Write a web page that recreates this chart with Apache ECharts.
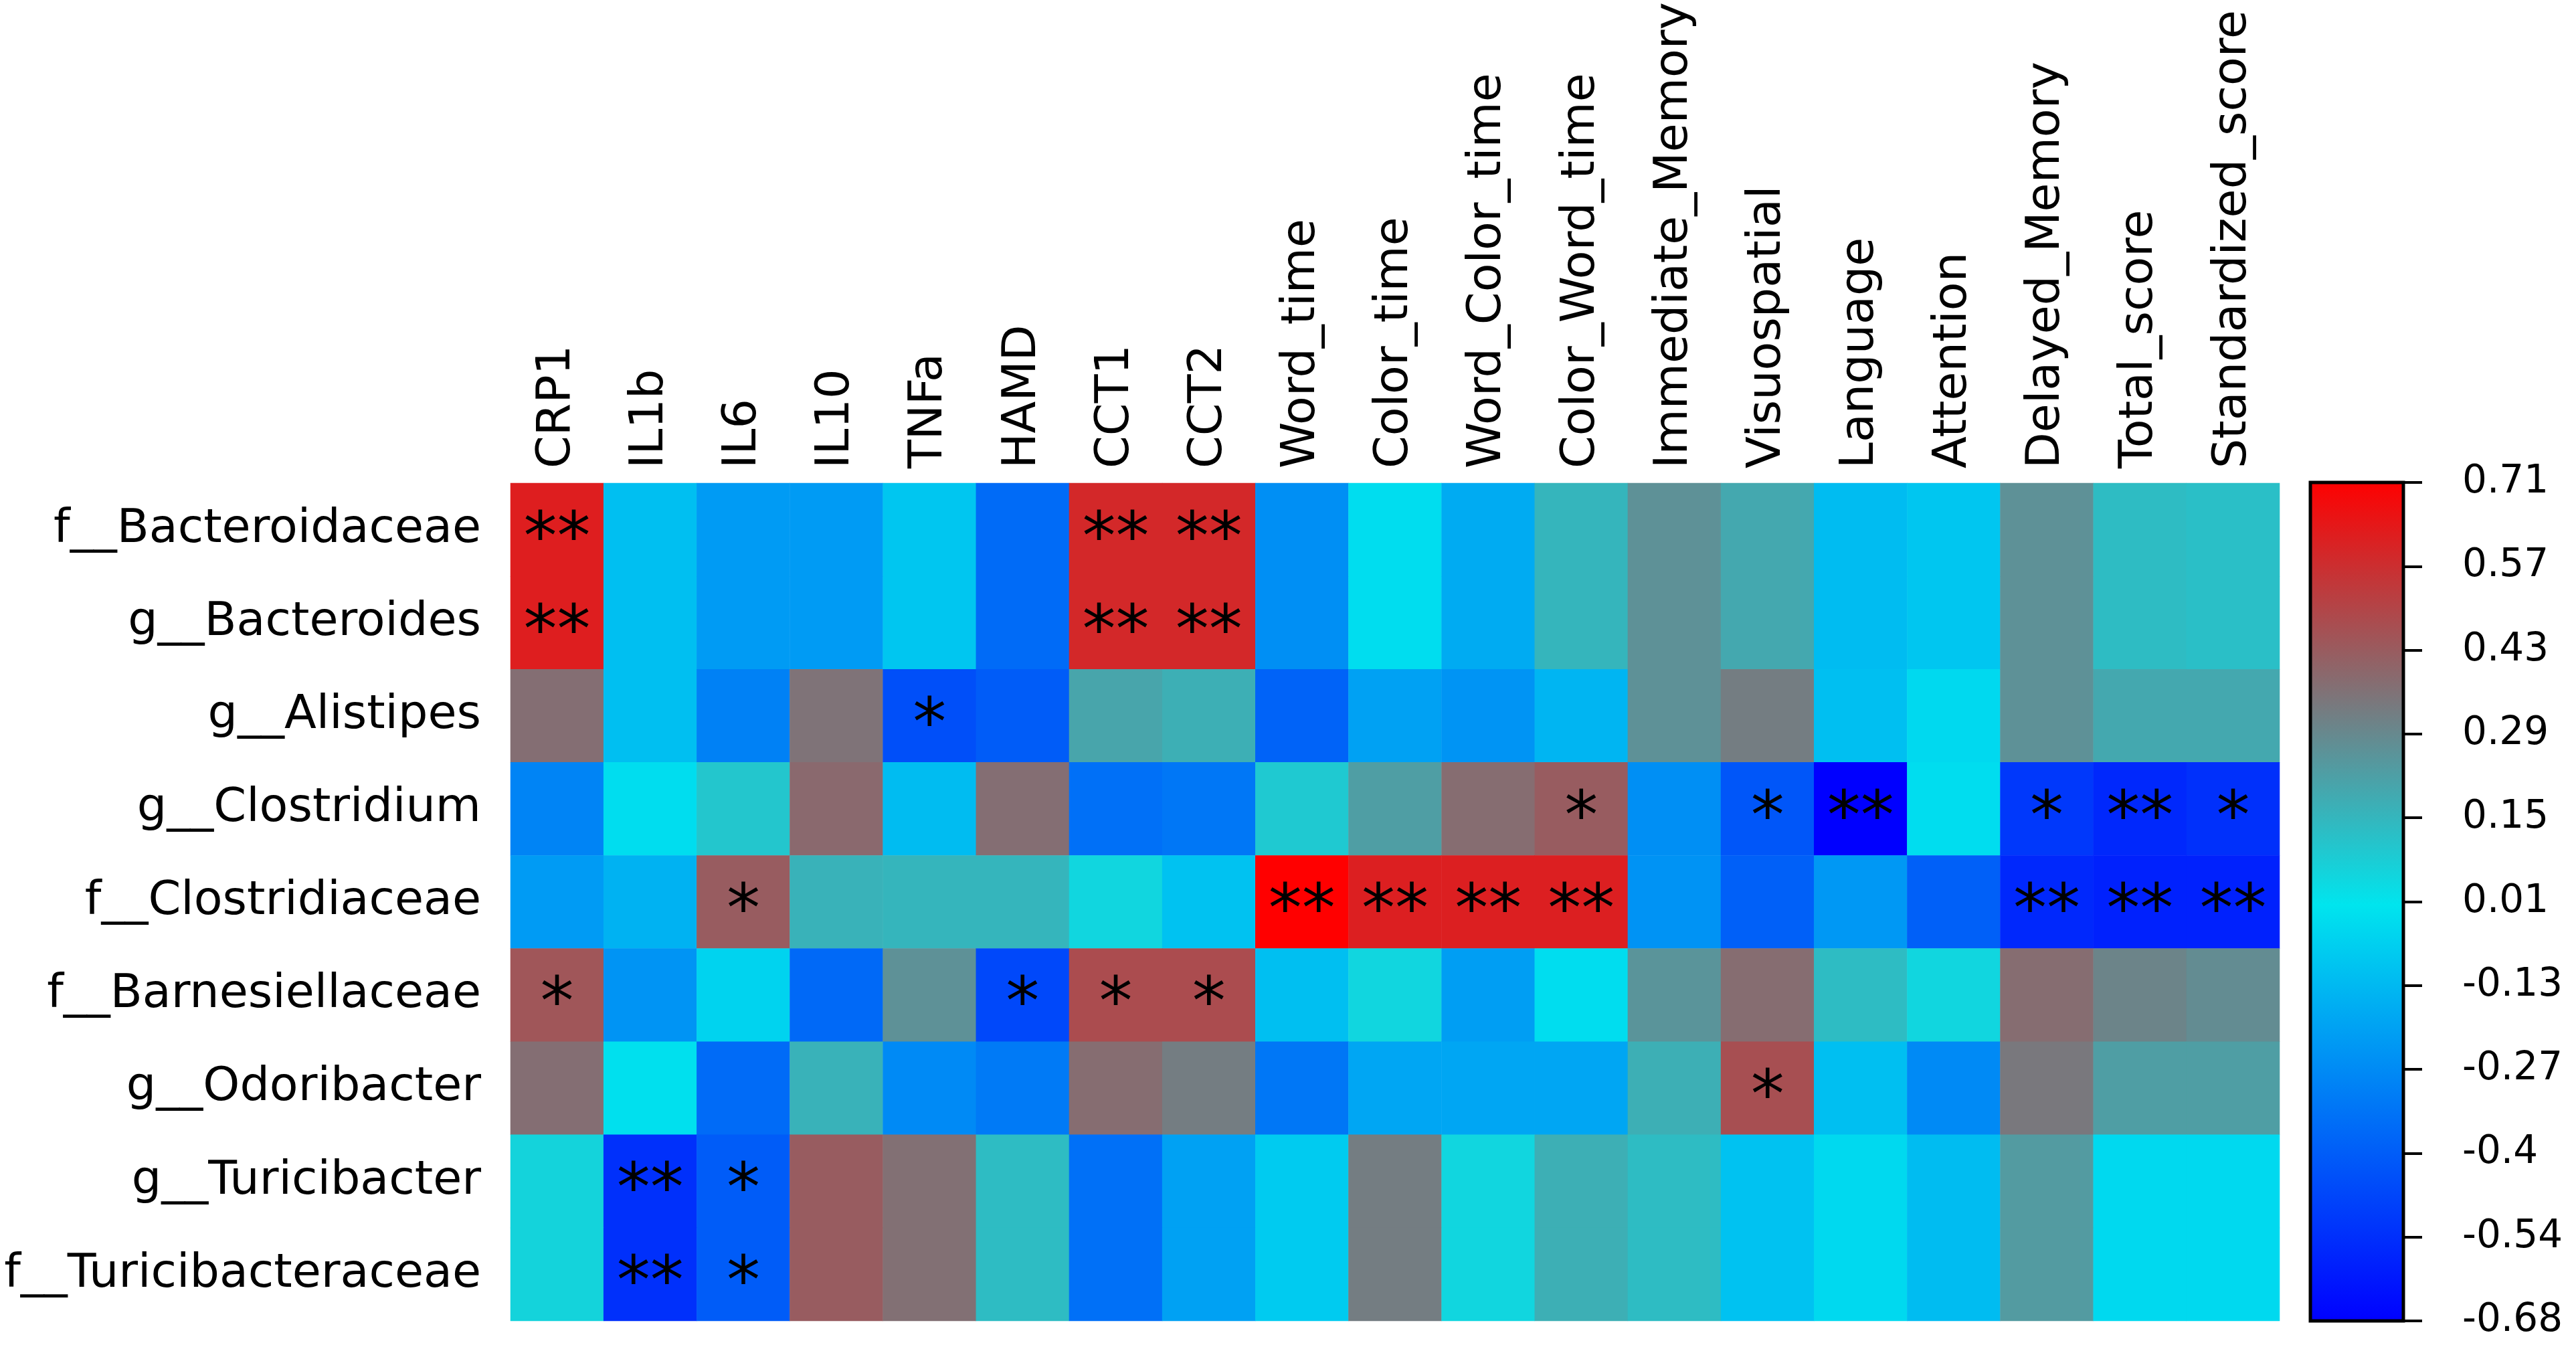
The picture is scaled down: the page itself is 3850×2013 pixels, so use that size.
<!DOCTYPE html>
<html>
<head>
<meta charset="utf-8">
<script src="https://cdn.jsdelivr.net/npm/echarts@6/dist/echarts.min.js"></script>
<style>
html,body{margin:0;padding:0;background:#fff;}
#chart{width:3850px;height:2013px;}
</style>
</head>
<body>
<div id="chart"></div>
<script>
const columns = ['CRP1','IL1b','IL6','IL10','TNFa','HAMD','CCT1','CCT2','Word_time','Color_time','Word_Color_time','Color_Word_time','Immediate_Memory','Visuospatial','Language','Attention','Delayed_Memory','Total_score','Standardized_score'];
const rows = ['f__Bacteroidaceae','g__Bacteroides','g__Alistipes','g__Clostridium','f__Clostridiaceae','f__Barnesiellaceae','g__Odoribacter','g__Turicibacter','f__Turicibacteraceae'];

const valBacteroidaceae   = [0.62,-0.10,-0.21,-0.21,-0.08,-0.355,0.59,0.59,-0.245,-0.01,-0.16,0.16,0.27,0.20,-0.11,-0.08,0.27,0.14,0.13];
const valBacteroides      = [0.62,-0.10,-0.21,-0.21,-0.08,-0.355,0.59,0.59,-0.245,-0.01,-0.16,0.16,0.27,0.20,-0.11,-0.08,0.27,0.14,0.13];
const valAlistipes        = [0.375,-0.10,-0.29,0.36,-0.44,-0.40,0.21,0.18,-0.38,-0.19,-0.23,-0.13,0.27,0.33,-0.10,-0.02,0.27,0.20,0.20];
const valClostridium      = [-0.28,-0.01,0.11,0.39,-0.11,0.375,-0.34,-0.32,0.10,0.23,0.38,0.43,-0.245,-0.42,-0.68,-0.01,-0.51,-0.56,-0.535];
const valClostridiaceae   = [-0.21,-0.14,0.43,0.17,0.16,0.16,0.06,-0.09,0.71,0.615,0.615,0.615,-0.235,-0.39,-0.22,-0.39,-0.56,-0.58,-0.58];
const valBarnesiellaceae  = [0.45,-0.23,-0.04,-0.36,0.27,-0.46,0.48,0.48,-0.10,0.06,-0.20,-0.01,0.26,0.38,0.14,0.06,0.38,0.31,0.285];
const valOdoribacter      = [0.375,0.0,-0.355,0.17,-0.26,-0.31,0.38,0.33,-0.32,-0.175,-0.175,-0.175,0.18,0.47,-0.10,-0.26,0.345,0.23,0.23];
const valTuricibacter     = [0.07,-0.535,-0.40,0.43,0.37,0.14,-0.34,-0.19,-0.065,0.33,0.06,0.18,0.14,-0.09,-0.02,-0.11,0.24,-0.02,-0.02];
const valTuricibacteraceae= [0.07,-0.535,-0.40,0.43,0.37,0.14,-0.34,-0.19,-0.065,0.33,0.06,0.18,0.14,-0.09,-0.02,-0.11,0.24,-0.02,-0.02];

const sigBacteroidaceae   = ['**','','','','','','**','**','','','','','','','','','','',''];
const sigBacteroides      = ['**','','','','','','**','**','','','','','','','','','','',''];
const sigAlistipes        = ['','','','','*','','','','','','','','','','','','','',''];
const sigClostridium      = ['','','','','','','','','','','','*','','*','**','','*','**','*'];
const sigClostridiaceae   = ['','','*','','','','','','**','**','**','**','','','','','**','**','**'];
const sigBarnesiellaceae  = ['*','','','','','*','*','*','','','','','','','','','','',''];
const sigOdoribacter      = ['','','','','','','','','','','','','','*','','','','',''];
const sigTuricibacter     = ['','**','*','','','','','','','','','','','','','','','',''];
const sigTuricibacteraceae= ['','**','*','','','','','','','','','','','','','','','',''];

const legendTicks = ['-0.68','-0.54','-0.4','-0.27','-0.13','0.01','0.15','0.29','0.43','0.57','0.71'];
const valueMin = -0.68, valueMax = 0.71;

const values = [valBacteroidaceae,valBacteroides,valAlistipes,valClostridium,valClostridiaceae,valBarnesiellaceae,valOdoribacter,valTuricibacter,valTuricibacteraceae];
const sigs = [sigBacteroidaceae,sigBacteroides,sigAlistipes,sigClostridium,sigClostridiaceae,sigBarnesiellaceae,sigOdoribacter,sigTuricibacter,sigTuricibacteraceae];

const palette = ['#0000FF', '#00E5EE', '#FF0000'];
const FONT = 'DejaVu Sans';

const heatData = [];
values.forEach((row, r) => row.forEach((v, c) => heatData.push([c, r, v])));

const chart = echarts.init(document.getElementById('chart'), null, {renderer: 'canvas'});
const midOffset = (0.01 - valueMin) / (valueMax - valueMin);

chart.setOption({
  backgroundColor: '#ffffff',
  animation: false,
  textStyle: {fontFamily: FONT},
  grid: [
    {left: 763, top: 721, width: 2644, height: 1253},
    {left: 3453, top: 721, width: 139, height: 1253}
  ],
  xAxis: [
    {
      type: 'category', data: columns, position: 'top', gridIndex: 0,
      axisLine: {show: false}, axisTick: {show: false}, splitLine: {show: false},
      axisLabel: {rotate: -90, margin: 22, fontSize: 70, color: '#000', fontFamily: FONT, interval: 0}
    },
    {
      type: 'category', data: ['bar'], gridIndex: 1, show: false
    }
  ],
  yAxis: [
    {
      type: 'category', data: rows, inverse: true, gridIndex: 0,
      axisLine: {show: false}, axisTick: {show: false}, splitLine: {show: false},
      axisLabel: {margin: 44, fontSize: 70, color: '#000', fontFamily: FONT, interval: 0}
    },
    {
      type: 'value', gridIndex: 1, min: 0, max: 10, interval: 1, position: 'right',
      axisLine: {show: false},
      axisTick: {show: true, inside: false, length: 28, lineStyle: {color: '#000', width: 4}},
      splitLine: {show: false},
      axisLabel: {margin: 88, fontSize: 58, color: '#000', fontFamily: FONT,
        formatter: (v) => legendTicks[Math.round(v)] }
    }
  ],
  visualMap: {
    type: 'continuous', min: valueMin, max: valueMax, show: false, seriesIndex: 0,
    inRange: {color: palette}
  },
  series: [
    {
      type: 'heatmap', xAxisIndex: 0, yAxisIndex: 0, data: heatData,
      itemStyle: {borderWidth: 0},
      emphasis: {disabled: true},
      label: {
        show: true, color: '#000', fontSize: 100, fontFamily: FONT, offset: [0, 18],
        formatter: (p) => sigs[p.data[1]][p.data[0]]
      }
    },
    {
      type: 'custom', xAxisIndex: 1, yAxisIndex: 1, data: [[0, 0]],
      renderItem: (params, api) => {
        const p0 = api.coord([0, 0]);
        const p1 = api.coord([0, 10]);
        const halfW = api.size([1, 0])[0] / 2;
        return {
          type: 'rect',
          shape: {x: p0[0] - halfW, y: p1[1], width: halfW * 2, height: p0[1] - p1[1]},
          style: {
            fill: new echarts.graphic.LinearGradient(0, 1, 0, 0, [
              {offset: 0, color: palette[0]},
              {offset: midOffset, color: palette[1]},
              {offset: 1, color: palette[2]}
            ]),
            stroke: '#000', lineWidth: 5
          }
        };
      }
    }
  ]
});
</script>
</body>
</html>
